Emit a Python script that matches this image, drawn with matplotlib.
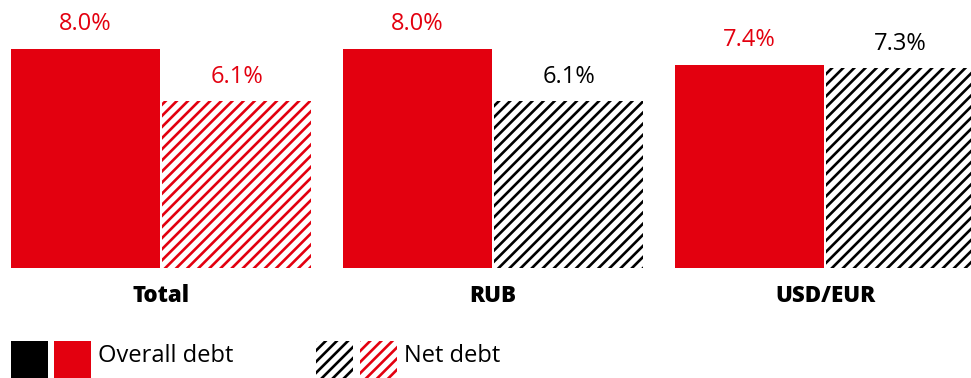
import matplotlib
matplotlib.use('Agg')
import matplotlib.pyplot as plt
from matplotlib.patches import Rectangle

categories = ["Total", "RUB", "USD/EUR"]
overall_debt = [8.0, 8.0, 7.4]
net_debt = [6.1, 6.1, 7.3]
overall_labels = ["8.0%", "8.0%", "7.4%"]
net_labels = ["6.1%", "6.1%", "7.3%"]

red = "#e3000f"
plt.rcParams['font.family'] = ['Open Sans', 'DejaVu Sans']
plt.rcParams['hatch.linewidth'] = 1.9

W, H = 971, 378
fig = plt.figure(figsize=(W / 100, H / 100), dpi=100)
# axes in pixel-like units: x 0..971, baseline at y=268px from top
ax = fig.add_axes([0, 1 - 268 / H, 1, 268 / H])
ax.set_xlim(0, W)
ax.set_ylim(0, 268 / 219 * 8.0)
ax.axis('off')

step = 332
bw = 149
for i, cat in enumerate(categories):
    x0 = 11 + step * i
    x1 = 162 + step * i
    ax.bar(x0, overall_debt[i], width=bw, align='edge', color=red, linewidth=0)
    hc = red if i == 0 else "black"
    ax.bar(x1, net_debt[i], width=bw, align='edge', color="white",
           edgecolor=hc, hatch="///", linewidth=0)
    ax.text(x0 + bw / 2, overall_debt[i] + 0.92, overall_labels[i],
            ha='center', va='center', fontsize=17, color=red)
    ax.text(x1 + bw / 2, net_debt[i] + 0.88, net_labels[i],
            ha='center', va='center', fontsize=17, color=hc)
    fig.text((x0 + x1 + bw) / 2 / W, 1 - 296 / H, cat, ha='center', va='center',
             fontsize=16, fontweight='heavy', color='black')

# legend
def swatch(px, color, hatch=None):
    if hatch:
        r = Rectangle((px / W, 0), 37 / W, 37 / H, transform=fig.transFigure,
                      facecolor='white', edgecolor=color, hatch=hatch, linewidth=0)
    else:
        r = Rectangle((px / W, 0), 37 / W, 37 / H, transform=fig.transFigure,
                      facecolor=color, linewidth=0)
    fig.add_artist(r)

swatch(11, 'black')
swatch(54, red)
fig.text(98 / W, 1 - 356 / H, "Overall debt", ha='left', va='center', fontsize=17)
swatch(316, 'black', '///')
swatch(360, red, '///')
fig.text(404 / W, 1 - 356 / H, "Net debt", ha='left', va='center', fontsize=17)

fig.savefig("out.png", dpi=100)
